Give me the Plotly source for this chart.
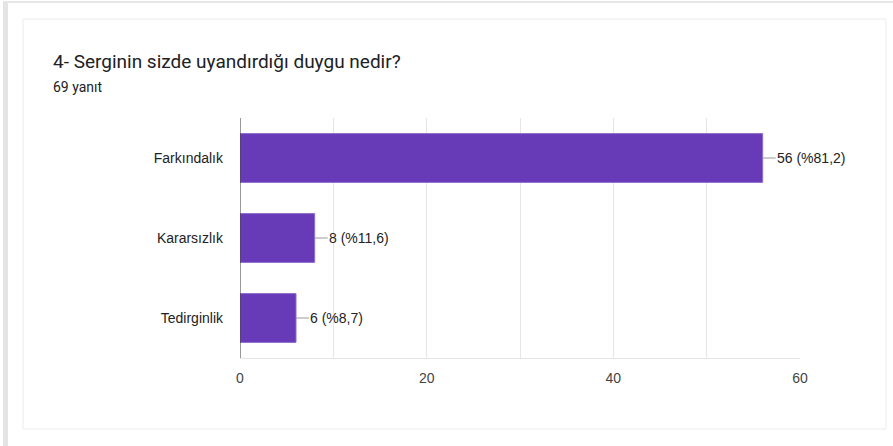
import plotly.graph_objects as go

categories = ["Farkındalık", "Kararsızlık", "Tedirginlik"]
counts = [56, 8, 6]
percent_labels = ["56 (%81,2)", "8 (%11,6)", "6 (%8,7)"]
tick_values = [0, 10, 20, 30, 40, 50, 60]
tick_labels = ["0", "", "20", "", "40", "", "60"]

title_text = "4- Serginin sizde uyandırdığı duygu nedir?"
subtitle_text = "69 yanıt"

W, H = 893, 446
L, R, T, B = 240, 93, 118, 88
pw, ph = W - L - R, H - T - B

def px(x):
    return (x - L) / pw

def py(y):
    return (H - B - y) / ph

FONT = "Roboto, Arial"
LFONT = "Liberation Sans, Arial"

fig = go.Figure()
fig.add_trace(go.Bar(
    y=categories, x=counts, orientation="h",
    marker=dict(color="#673ab7", line=dict(color="#8e6ccf", width=1)),
    width=0.61, hoverinfo="skip",
))

annotations = []
for c, v, t in zip(categories, counts, percent_labels):
    annotations.append(dict(
        x=v, y=c, xref="x", yref="y", text=t, showarrow=True,
        arrowhead=0, arrowwidth=1, arrowcolor="#999999",
        ax=13, ay=0, xanchor="left", yanchor="middle",
        font=dict(family=LFONT, size=14, color="#222222"),
        standoff=0, startstandoff=0, borderpad=0,
    ))

annotations.append(dict(
    x=px(51), y=py(62), xref="paper", yref="paper", text=title_text,
    showarrow=False, xanchor="left", yanchor="middle",
    font=dict(family=FONT, size=19, color="#202124"),
))
annotations.append(dict(
    x=px(51), y=py(87), xref="paper", yref="paper", text=subtitle_text,
    showarrow=False, xanchor="left", yanchor="middle",
    font=dict(family=FONT, size=14, color="#202124"),
))

shapes = [
    # outer shadow: left blur
    dict(type="rect", xref="paper", yref="paper", layer="below",
         x0=px(3), x1=px(8), y0=py(2), y1=py(446),
         line=dict(width=0), fillcolor="#e4e4e4"),
    # outer top line
    dict(type="line", xref="paper", yref="paper", layer="below",
         x0=px(3), x1=px(893), y0=py(2), y1=py(2),
         line=dict(color="#e6e6e6", width=2)),
    # inner card
    dict(type="rect", xref="paper", yref="paper", layer="below",
         x0=px(23), x1=px(886), y0=py(19), y1=py(429),
         line=dict(color="#ececec", width=1), fillcolor="white"),
    # axis line at zero
    dict(type="line", xref="x", yref="paper", x0=0, x1=0, y0=0, y1=1,
         line=dict(color="#333333", width=1)),
]

fig.update_layout(
    width=W, height=H,
    margin=dict(l=L, r=R, t=T, b=B),
    paper_bgcolor="white", plot_bgcolor="rgba(0,0,0,0)",
    showlegend=False,
    annotations=annotations, shapes=shapes,
    xaxis=dict(range=[0, 60], tickvals=tick_values, ticktext=tick_labels,
               showgrid=True, gridcolor="#e6e6e6", gridwidth=1,
               zeroline=False, showline=True, linecolor="#e6e6e6",
               ticks="", ticklen=0, ticklabelstandoff=7,
               tickfont=dict(family=LFONT, size=14, color="#444444"),
               fixedrange=True),
    yaxis=dict(categoryorder="array", categoryarray=categories,
               autorange="reversed", showgrid=False, zeroline=False,
               ticks="", ticklabelstandoff=16,
               tickfont=dict(family=LFONT, size=14, color="#222222"),
               fixedrange=True),
)

fig.write_html("out.html", config={"displayModeBar": False},
               post_script="document.body.style.margin='0';")
